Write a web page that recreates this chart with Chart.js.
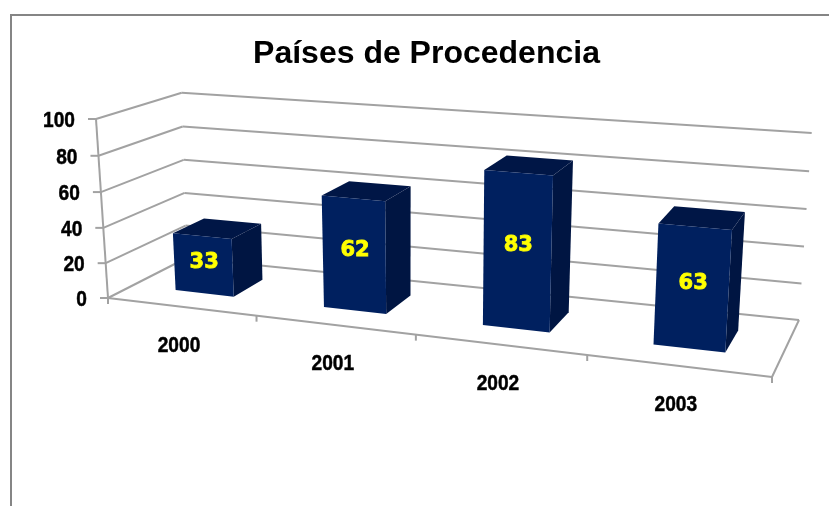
<!DOCTYPE html>
<html>
<head>
<meta charset="utf-8">
<style>
    html, body { margin: 0; background: #fff; }
    #wrap { position: relative; width: 829px; height: 506px; }
</style>
<script src="https://cdn.jsdelivr.net/npm/chart.js@4"></script>
</head>
<body>
<div id="wrap"><canvas id="paises"></canvas></div>
<script>
    // Values
    const categories = ['2000', '2001', '2002', '2003'];
    const values = [33, 62, 83, 63];
    const yTicks = [0, 20, 40, 60, 80, 100];
    const chartTitle = 'Países de Procedencia';

    const gridColor = '#a2a2a2';
    const frontColor = '#00205f';
    const sideColor = '#001542';
    const topColor = '#001646';

    // Map the unit square onto a four-corner quad (p00, p10, p01, p11)
    function quad(p00, p10, p01, p11) {
        const dx1 = p10[0] - p11[0], dy1 = p10[1] - p11[1];
        const dx2 = p01[0] - p11[0], dy2 = p01[1] - p11[1];
        const ex = p00[0] - p11[0], ey = p00[1] - p11[1];
        const det = dx1 * dy2 - dx2 * dy1;
        const u = (ex * dy2 - dx2 * ey) / det;
        const v = (dx1 * ey - ex * dy1) / det;
        return (s, t) => {
            const w = 1 + (u - 1) * s + (v - 1) * t;
            return [
                (p00[0] + (u * p10[0] - p00[0]) * s + (v * p01[0] - p00[0]) * t) / w,
                (p00[1] + (u * p10[1] - p00[1]) * s + (v * p01[1] - p00[1]) * t) / w
            ];
        };
    }

    // Front and back planes of the 3D box on the page
    const frontPlane = quad([108, 298], [772, 377], [96, 119], [785, 172]);
    const backPlane = quad([186.5, 258], [799, 320], [181.7, 92.7], [811.7, 133]);

    function project(s, t, depth) {
        const d = depth * 1.09 / (1 + 0.09 * depth);
        const a = frontPlane(s, t), b = backPlane(s, t);
        return [a[0] + (b[0] - a[0]) * d, a[1] + (b[1] - a[1]) * d];
    }

    function line(ctx, a, b) {
        ctx.beginPath();
        ctx.moveTo(a[0], a[1]);
        ctx.lineTo(b[0], b[1]);
        ctx.stroke();
    }

    function face(ctx, pts, color) {
        ctx.beginPath();
        pts.forEach((p, i) => i ? ctx.lineTo(p[0], p[1]) : ctx.moveTo(p[0], p[1]));
        ctx.closePath();
        ctx.fillStyle = color;
        ctx.fill();
    }

    // Axis text is tall and narrow in the original
    function narrowText(ctx, text, x, y, align) {
        ctx.save();
        ctx.translate(x, y);
        ctx.scale(0.87, 1);
        ctx.font = 'bold 22px "Liberation Sans", Arial, sans-serif';
        ctx.fillStyle = '#000';
        ctx.strokeStyle = '#000';
        ctx.lineWidth = 0.5;
        ctx.textAlign = align;
        ctx.textBaseline = 'middle';
        ctx.fillText(text, 0, 0);
        ctx.strokeText(text, 0, 0);
        ctx.restore();
    }

    const box3d = {
        id: 'box3d',
        beforeDatasetsDraw(chart) {
            const ctx = chart.ctx, area = chart.chartArea;
            const xs = chart.scales.x, ys = chart.scales.y;
            const toT = v => (area.bottom - ys.getPixelForValue(v)) / area.height;

            ctx.save();
            // outer frame of the picture
            ctx.strokeStyle = '#858585';
            ctx.lineWidth = 2;
            ctx.beginPath();
            ctx.moveTo(11, 506);
            ctx.lineTo(11, 15);
            ctx.lineTo(829, 15);
            ctx.stroke();

            ctx.strokeStyle = gridColor;
            ctx.lineWidth = 2;
            yTicks.forEach(v => {
                const t = toT(v);
                const front = project(0, t, 0), back = project(0, t, 1);
                line(ctx, front, back);
                line(ctx, back, project(1, t, 1));
                line(ctx, [front[0] - 8, front[1]], front);
                narrowText(ctx, String(v), front[0] - 21, front[1] + 2, 'right');
            });
            line(ctx, project(0, 0, 0), project(0, 1, 0));
            line(ctx, project(0, 0, 0), project(1, 0, 0));
            line(ctx, project(1, 0, 0), project(1, 0, 1));

            // category ticks sit on the borders between categories
            const step = area.width / categories.length;
            for (let i = 0; i <= categories.length; i++) {
                const p = project(i * step / area.width, 0, 0);
                line(ctx, p, [p[0], p[1] + 6]);
            }
            categories.forEach((c, i) => {
                const s = (xs.getPixelForValue(i) - area.left) / area.width;
                const p = project(s, 0, 0);
                narrowText(ctx, c, p[0] - 2, p[1] + 39, 'center');
            });
            ctx.restore();
        },
        // Replace the flat bars with projected boxes
        beforeDatasetDraw(chart, args) {
            const ctx = chart.ctx, area = chart.chartArea;
            const nearZ = 0.3, farZ = 0.7;
            args.meta.data.forEach((bar, i) => {
                const s0 = (bar.x - bar.width / 2 - area.left) / area.width;
                const s1 = (bar.x + bar.width / 2 - area.left) / area.width;
                const t0 = (area.bottom - bar.base) / area.height;
                const t1 = (area.bottom - bar.y) / area.height;
                face(ctx, [project(s1, t0, nearZ), project(s1, t0, farZ), project(s1, t1, farZ), project(s1, t1, nearZ)], sideColor);
                face(ctx, [project(s0, t1, nearZ), project(s1, t1, nearZ), project(s1, t1, farZ), project(s0, t1, farZ)], topColor);
                face(ctx, [project(s0, t0, nearZ), project(s1, t0, nearZ), project(s1, t1, nearZ), project(s0, t1, nearZ)], frontColor);
                const mid = project((s0 + s1) / 2, t1 * 0.54, nearZ);
                ctx.save();
                ctx.font = 'bold 21px "DejaVu Sans", sans-serif';
                ctx.fillStyle = '#ffff00';
                ctx.strokeStyle = '#ffff00';
                ctx.lineWidth = 0.8;
                ctx.textAlign = 'center';
                ctx.textBaseline = 'middle';
                ctx.fillText(String(values[i]), mid[0] + 1, mid[1]);
                ctx.strokeText(String(values[i]), mid[0] + 1, mid[1]);
                ctx.restore();
            });
            return false;
        }
    };

    new Chart(document.getElementById('paises').getContext('2d'), {
        type: 'bar',
        data: {
            labels: categories,
            datasets: [{
                data: values,
                backgroundColor: frontColor,
                categoryPercentage: 1,
                barPercentage: 0.4
            }]
        },
        options: {
            responsive: true,
            maintainAspectRatio: false,
            animation: false,
            layout: { padding: { left: 24, top: 0 } },
            plugins: {
                legend: { display: false },
                tooltip: { enabled: false },
                title: {
                    display: true,
                    text: chartTitle,
                    color: '#000',
                    font: { family: '"Liberation Sans", Arial, sans-serif', size: 32, weight: 'bold' },
                    padding: { top: 35, bottom: 20 }
                }
            },
            scales: {
                x: { display: false },
                y: {
                    display: false,
                    min: 0,
                    max: 100,
                    afterBuildTicks(scale) { scale.ticks = yTicks.map(v => ({ value: v })); }
                }
            }
        },
        plugins: [box3d]
    });
</script>
</body>
</html>
